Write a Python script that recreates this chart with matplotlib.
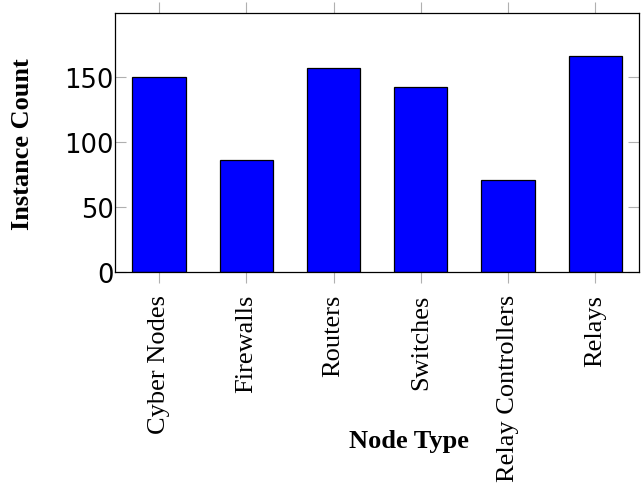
import matplotlib
matplotlib.use("Agg")
import matplotlib.pyplot as plt
import numpy as np

categories = ["Cyber Nodes", "Firewalls", "Routers", "Switches", "Relay Controllers", "Relays"]
counts = [150, 86, 157, 142, 71, 166]
yticks = [0, 50, 100, 150]

fig = plt.figure(figsize=(6.44, 4.85), dpi=100)
ax = fig.add_axes([115.3/644, 1-272.7/485, (639-115.3)/644, (272.7-14)/485])

x = np.arange(len(categories))
ax.bar(x, counts, width=0.61, color="#0000ff", edgecolor="black", linewidth=0.9, zorder=2)

ax.set_xlim(-0.5, len(categories)-0.5)
ax.set_ylim(0, 199.3)
ax.set_xticks(x)
ax.set_xticklabels(categories, rotation=90, family="Liberation Serif", fontsize=19,
                   ha="center", va="top")
ax.set_yticks(yticks)
ax.set_yticklabels([str(v) for v in yticks], family="DejaVu Sans", fontsize=18.5)

ax.tick_params(axis="x", direction="out", length=8, width=0.8, color="#b0b0b0",
               top=True, bottom=True, pad=8)
ax.tick_params(axis="y", direction="in", length=8, width=0.8, color="#b0b0b0",
               left=True, right=True, pad=1)
for s in ax.spines.values():
    s.set_linewidth(0.9)
    s.set_color("black")
    s.set_zorder(3)

fig.text(23/644, 1-144/485, "Instance Count", rotation=90, family="Liberation Serif",
         fontweight="bold", fontsize=19, ha="center", va="center")
fig.text(409/644, 1-448/485, "Node Type", family="Liberation Serif",
         fontweight="bold", fontsize=19, ha="center", va="baseline")

fig.savefig("out.png", dpi=100)
